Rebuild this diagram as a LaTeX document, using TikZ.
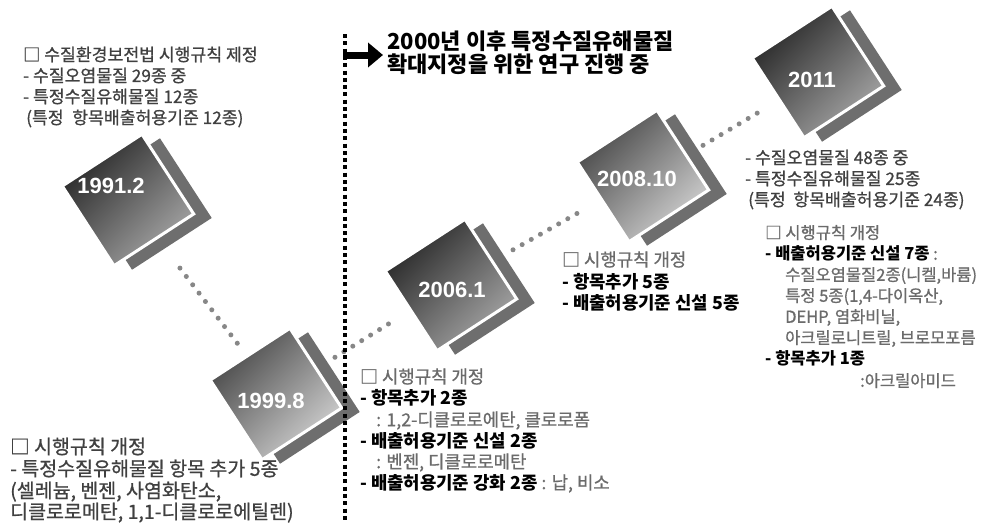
\documentclass[tikz,border=0pt]{standalone}
\usepackage{fontspec}
\setmainfont{Noto Sans CJK KR}[UprightFeatures={FakeBold=0.8}]
\newfontfamily\yearfont{Liberation Sans}
\usetikzlibrary{arrows.meta,calc}
\colorlet{txtdark}{black!75}
\colorlet{txtgray}{black!58}
\begin{document}
\begin{tikzpicture}[x=1pt,y=-1pt,
  backsq/.style={rectangle,minimum size=95pt,inner sep=0pt,outer sep=0pt,rotate=33,fill=black!57},
  sqbox/.style={rectangle,minimum size=95pt,inner sep=0pt,outer sep=0pt,rotate=33},
  darkface/.style={left color=black!85,right color=black!35,shading angle=45,draw=white,line width=3pt,line join=miter},
  lightface/.style={left color=black!72,right color=black!18,shading angle=45,draw=white,line width=3pt,line join=miter},
  yeartxt/.style={text=white,font=\yearfont\bfseries\fontsize{22}{26}\selectfont,inner sep=0pt},
  dotline/.style={draw=black!47,line width=5pt,line cap=round,dash pattern=on 0pt off 10.5pt},
  vline/.style={draw=black,line width=4pt,dash pattern=on 4pt off 3.3pt},
  lnA/.style={anchor=west,inner sep=0pt,text height=15.3pt,text depth=3.4pt,font=\fontsize{17.2}{20}\selectfont},
  lnF/.style={anchor=west,inner sep=0pt,text height=14.8pt,text depth=3.3pt,font=\fontsize{16.5}{20}\selectfont},
  lnB/.style={anchor=west,inner sep=0pt,text height=17.5pt,text depth=3.9pt,font=\fontsize{19.5}{23}\selectfont},
  lnC/.style={anchor=west,inner sep=0pt,text height=16pt,text depth=3.6pt,font=\fontsize{17.8}{21}\selectfont},
  head/.style={anchor=west,inner sep=0pt,text height=19.8pt,text depth=4.4pt,font=\bfseries\fontsize{22}{26}\selectfont}
]
\useasboundingbox[fill=white] (0,0) rectangle (982,522);

% year markers
\node[backsq] (k1) at (146,204) {};
\node[sqbox] (s1) at (128,200) {};
\path[darkface] (s1.south west) -- (s1.north west) -- (s1.north east) -- (s1.south east) -- cycle;
\node[yeartxt] (y1) at (111,186) {1991.2};

\node[backsq] (k2) at (294,398) {};
\node[sqbox] (s2) at (276,394) {};
\path[lightface] (s2.south west) -- (s2.north west) -- (s2.north east) -- (s2.south east) -- cycle;
\node[yeartxt] (y2) at (271,401) {1999.8};

\node[backsq] (k3) at (469,289) {};
\node[sqbox] (s3) at (451,285) {};
\path[darkface] (s3.south west) -- (s3.north west) -- (s3.north east) -- (s3.south east) -- cycle;
\node[yeartxt] (y3) at (452,290) {2006.1};

\node[backsq] (k4) at (661,180) {};
\node[sqbox] (s4) at (643,176) {};
\path[lightface] (s4.south west) -- (s4.north west) -- (s4.north east) -- (s4.south east) -- cycle;
\node[yeartxt] (y4) at (637,179) {2008.10};

\node[backsq] (k5) at (836,76) {};
\node[sqbox] (s5) at (818,72) {};
\path[darkface] (s5.south west) -- (s5.north west) -- (s5.north east) -- (s5.south east) -- cycle;
\node[yeartxt] (y5) at (812,80) {2011};

% dotted connectors
\draw[dotline] ($(s1)!0.351!(s2)$) -- ($(s1)!0.74!(s2)$);
\draw[dotline] ($(s2)!0.337!(s3)$) -- ($(s2)!0.67!(s3)$);
\draw[dotline] ($(s3)!0.323!(s4)$) -- ($(s3)!0.68!(s4)$);
\draw[dotline] ($(s4)!0.343!(s5)+(0,5)$) -- ($(s4)!0.70!(s5)+(0,5)$);

% vertical divider and arrow
\coordinate (vt) at (345,34);
\coordinate (vb) at (345,522);
\draw[vline] (vt) -- (vb);
\coordinate (as) at (343,55);
\coordinate (ae) at (383,55);
\draw[line width=7pt,-{Triangle[length=15pt,width=24pt]}] (as) -- (ae);

% header
\node[head] (h1) at (387,42) {2000년 이후 특정수질유해물질};
\node[head] (h2) at (387,65) {확대지정을 위한 연구 진행 중};

% block a (1991.2)
\node[lnA,text=txtdark] (a1) at (23,55) {□ 수질환경보전법 시행규칙 제정};
\node[lnA,text=txtdark] (a2) at (23,76) {- 수질오염물질 29종 중};
\node[lnA,text=txtdark] (a3) at (23,97) {- 특정수질유해물질 12종};
\node[lnA,text=txtdark] (a4) at (26,118) {(특정\hspace{0.5em}항목배출허용기준 12종)};

% block b (1999.8)
\node[lnB,text=txtdark] (b1) at (10,447) {□ 시행규칙 개정};
\node[lnB,text=txtdark] (b2) at (10,469) {- 특정수질유해물질 항목 추가 5종};
\node[lnB,text=txtdark] (b3) at (10,491) {(셀레늄, 벤젠, 사염화탄소,};
\node[lnB,text=txtdark] (b4) at (10,512) {디클로로메탄, 1,1-디클로로에틸렌)};

% block c (2006.1)
\node[lnC,text=txtgray] (c1) at (360,377) {□ 시행규칙 개정};
\node[lnC,text=black] (c2) at (360,398) {\bfseries - 항목추가 2종};
\node[lnC,text=txtgray] (c3) at (376,420) {: 1,2-디클로로에탄, 클로로폼};
\node[lnC,text=black] (c4) at (360,441) {\bfseries - 배출허용기준 신설 2종};
\node[lnC,text=txtgray] (c5) at (376,462) {: 벤젠, 디클로로메탄};
\node[lnC,text=black] (c6) at (360,483) {{\bfseries - 배출허용기준 강화 2종}\textcolor{txtgray}{\ : 납, 비소}};

% block d (2008.10)
\node[lnC,text=txtgray] (d1) at (562,260) {□ 시행규칙 개정};
\node[lnC,text=black] (d2) at (562,282) {\bfseries - 항목추가 5종};
\node[lnC,text=black] (d3) at (562,303) {\bfseries - 배출허용기준 신설 5종};

% block e (2011 summary)
\node[lnA,text=txtdark] (e1) at (745,158) {- 수질오염물질 48종 중};
\node[lnA,text=txtdark] (e2) at (745,179) {- 특정수질유해물질 25종};
\node[lnA,text=txtdark] (e3) at (748,200) {(특정\hspace{0.45em}항목배출허용기준 24종)};

% block f (2011 revision)
\node[lnF,text=txtgray] (f1) at (765,233) {□ 시행규칙 개정};
\node[lnF,text=black] (f2) at (765,254) {{\bfseries - 배출허용기준 신설 7종}\textcolor{txtgray}{\ :}};
\node[lnF,text=txtgray] (f3) at (785,275) {수질오염물질2종(니켈,바륨)};
\node[lnF,text=txtgray] (f4) at (785,296) {특정 5종(1,4-다이옥산,};
\node[lnF,text=txtgray] (f5) at (785,317) {DEHP, 염화비닐,};
\node[lnF,text=txtgray] (f6) at (785,338) {아크릴로니트릴, 브로모포름};
\node[lnF,text=black] (f7) at (765,359) {\bfseries - 항목추가 1종};
\node[lnF,text=txtgray] (f8) at (860,381) {:아크릴아미드};
\end{tikzpicture}
\end{document}
